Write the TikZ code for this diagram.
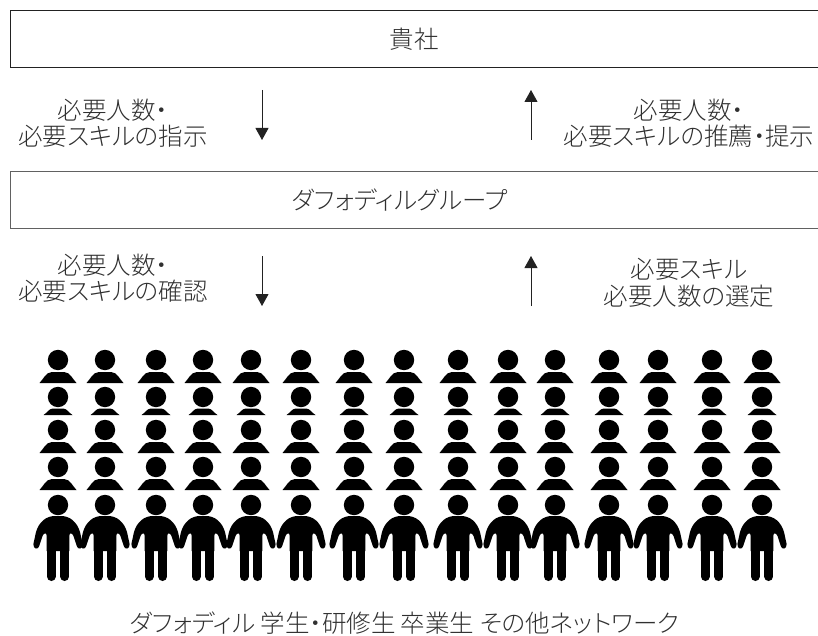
\documentclass[tikz,border=0pt]{standalone}
\usepackage{fontspec}
\usetikzlibrary{arrows.meta}
\newfontfamily\jpfont[RawFeature={+palt}]{Noto Sans CJK JP Light}
\definecolor{txtgray}{HTML}{303030}
\definecolor{arrowdark}{HTML}{222222}
\tikzset{
  x=1pt,y=-1pt,
  boxa/.style={draw=arrowdark,line width=1pt,fill=white,rectangle,inner sep=0pt},
  boxb/.style={draw=black!62,line width=1.3pt,fill=white,rectangle,inner sep=0pt},
  lab/.style={font=\jpfont\fontsize{24.5}{26.5}\selectfont,text=txtgray,align=center,inner sep=0pt},
  flow/.style={draw=arrowdark,line width=.9pt,-{Triangle[length=12pt,width=13pt,fill=arrowdark]},shorten >=0pt},
  pics/bust/.style={code={
    \fill[black] (0,0) circle[radius=10.2];
    \fill[black] (-18.5,23) .. controls (-15,19.5) and (-12,12) .. (-6,12) -- (6,12) .. controls (12,12) and (15,19.5) .. (18.5,23) -- cycle;
  }},
  pics/bustsmall/.style={code={
    \fill[black] (0,0) circle[radius=10.2];
    \fill[black] (-14.5,18) .. controls (-11,16) and (-9,11.5) .. (-5,11.5) -- (5,11.5) .. controls (9,11.5) and (11,16) .. (14.5,18) -- cycle;
  }},
  pics/figure/.style={code={
    \fill[black] (0,0) circle[radius=10.2];
    \fill[black] (-3,11) -- (3,11) .. controls (12,11) and (19,17) .. (22,27) -- (24.6,39) .. controls (25,44.5) and (19.5,45) .. (18.8,41) -- (15.5,31) .. controls (14,27.5) and (11.3,27.5) .. (11.3,31) -- (11.3,46) -- (-11.3,46) -- (-11.3,31) .. controls (-11.3,27.5) and (-14,27.5) .. (-15.5,31) -- (-18.8,41) .. controls (-19.5,45) and (-25,44.5) .. (-24.6,39) -- (-22,27) .. controls (-19,17) and (-12,11) .. (-3,11) -- cycle;
    \draw[black,line width=9pt,line cap=round] (-6.8,44) -- (-6.8,71.5);
    \draw[black,line width=9pt,line cap=round] (6.8,44) -- (6.8,71.5);
  }},
}
\begin{document}
\begin{tikzpicture}
\useasboundingbox (0,0) rectangle (818,636);
\clip (0,0) rectangle (818,636);
\node[boxa,minimum width=816pt,minimum height=57pt,anchor=north west] (top) at (10,10.5) {};
\node[boxb,minimum width=816pt,minimum height=56.5pt,anchor=north west] (mid) at (10,171) {};
\node[lab] (toplabel) at (414,39) {貴社};
\node[lab] (midlabel) at (400,200) {ダフォディルグループ};
\node[lab] (t1) at (113,123) {必要人数・\\必要スキルの指示};
\node[lab] (t2) at (689,123) {必要人数・\\必要スキルの推薦・提示};
\node[lab] (t3) at (113,278) {必要人数・\\必要スキルの確認};
\node[lab] (t4) at (689,283) {必要スキル\\必要人数の選定};
\node[lab] (foot) at (405,623) {ダフォディル 学生・研修生 卒業生 その他ネットワーク};
\coordinate (a1s) at (262,90); \coordinate (a1e) at (262,140);
\coordinate (a2s) at (531,140); \coordinate (a2e) at (531,90);
\coordinate (a3s) at (262,256); \coordinate (a3e) at (262,306);
\coordinate (a4s) at (531,306); \coordinate (a4e) at (531,256);
\draw[flow] (a1s) -- (a1e);
\draw[flow] (a2s) -- (a2e);
\draw[flow] (a3s) -- (a3e);
\draw[flow] (a4s) -- (a4e);
\foreach \px in {58,105,156,203,251,301,354,404,458,508,555,609,658,712,762}{
  \pic at (\px,360) {bust};
  \pic at (\px,397) {bustsmall};
  \pic at (\px,430) {bust};
  \pic at (\px,467) {bust};
  \pic at (\px,505) {figure};
}
\end{tikzpicture}
\end{document}
